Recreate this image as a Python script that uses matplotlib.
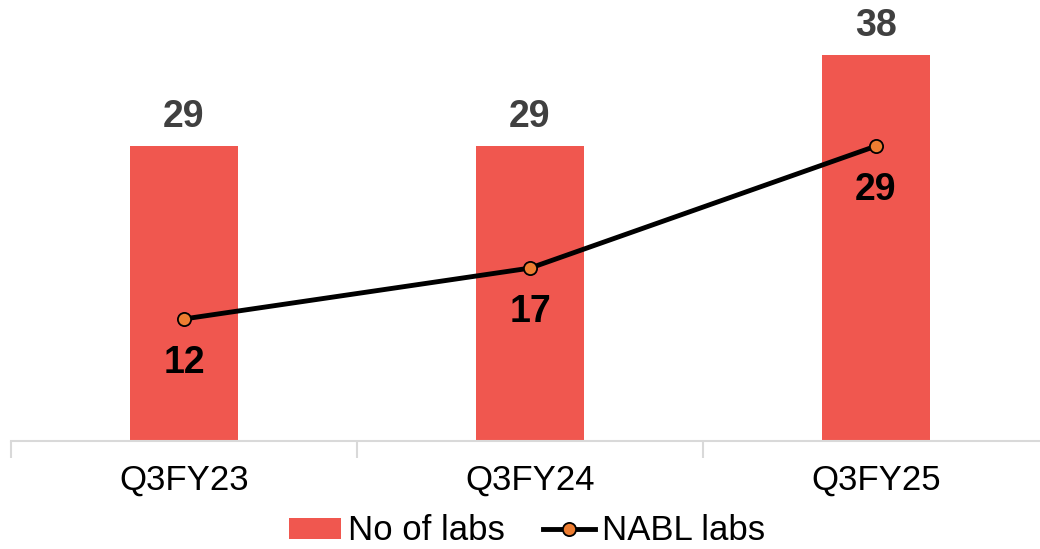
import numpy as np
import matplotlib.pyplot as plt
from matplotlib.ticker import FixedLocator

plt.rcParams['font.family'] = ['Liberation Sans', 'DejaVu Sans']

# Data
quarters = ['Q3FY23', 'Q3FY24', 'Q3FY25']
no_of_labs = [29, 29, 38]
nabl_labs = [12, 17, 29]

bar_color = '#F0574F'
marker_color = '#ED7D31'

fig = plt.figure(figsize=(10.4, 5.49), dpi=100)
ax = fig.add_axes([11 / 1040, 108 / 549, 1038 / 1040, 441 / 549])

x = np.arange(len(quarters))
bars = ax.bar(x, no_of_labs, width=0.31, color=bar_color, label='No of labs', zorder=2)
line, = ax.plot(x, nabl_labs, color='black', lw=3.5, marker='o', markersize=9.5,
                markerfacecolor=marker_color, markeredgecolor='black', markeredgewidth=1.3,
                label='NABL labs', zorder=3)

# value labels
for xi, v in zip(x, no_of_labs):
    ax.annotate(str(v), (xi, v), xytext=(0, 19), textcoords='offset pixels',
                ha='center', va='baseline', fontsize=27, fontweight='bold', color='#404040')
for xi, v in zip(x, nabl_labs):
    ax.annotate(str(v), (xi, v), xytext=(0, -54), textcoords='offset pixels',
                ha='center', va='baseline', fontsize=27, fontweight='bold', color='black')

ax.set_xlim(-0.5, 2.5)
ax.set_ylim(0, 441 / 10.17)

for s in ['top', 'right', 'left']:
    ax.spines[s].set_visible(False)
ax.spines['bottom'].set_color('#D9D9D9')
ax.spines['bottom'].set_linewidth(1.5)
ax.set_yticks([])

ax.set_xticks(x)
ax.set_xticklabels(quarters, fontsize=25)
ax.tick_params(axis='x', which='major', length=0, pad=16)
ax.xaxis.set_minor_locator(FixedLocator([-0.5, 0.5, 1.5, 2.5]))
ax.tick_params(axis='x', which='minor', length=12, width=1.5, color='#D9D9D9')

fig.legend(handles=[bars, line], loc='center', bbox_to_anchor=(527 / 1040, 1 - 531 / 549),
           ncol=2, frameon=False, fontsize=25, handlelength=1.5, handleheight=0.55,
           handletextpad=0.2, columnspacing=1.1, borderaxespad=0, borderpad=0)

fig.savefig('out.png', dpi=100)
